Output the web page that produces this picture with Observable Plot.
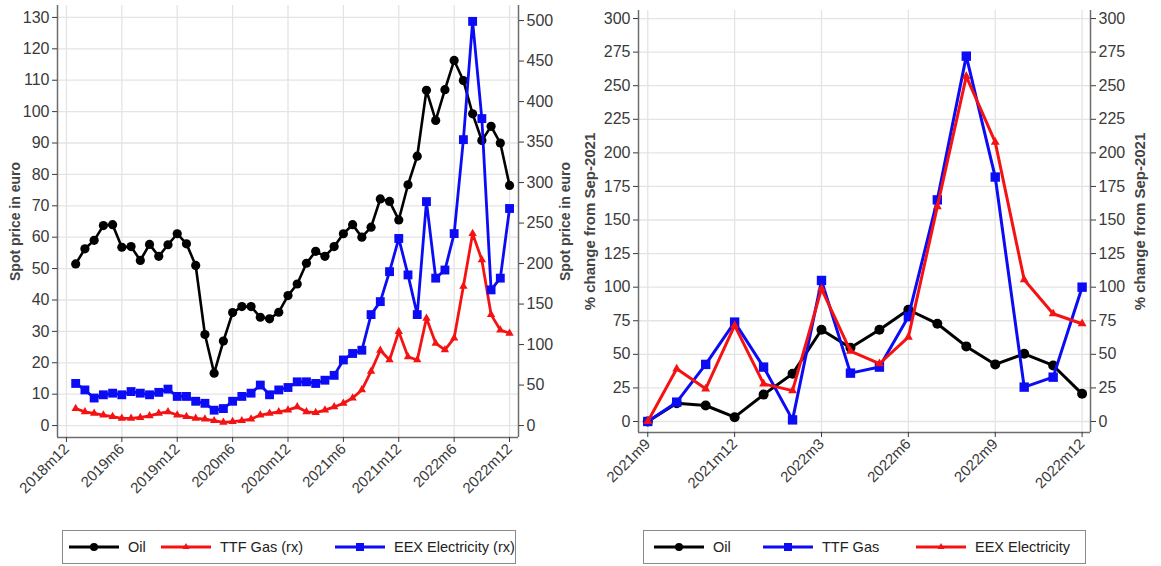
<!DOCTYPE html>
<html><head><meta charset="utf-8">
<script src="https://cdn.jsdelivr.net/npm/d3@7"></script>
<script src="https://cdn.jsdelivr.net/npm/@observablehq/plot@0.6"></script>
<style>
body{margin:0;background:#fff;width:1161px;height:566px;overflow:hidden;position:relative;font-family:"Liberation Sans Narrow","Arial Narrow",Arial,sans-serif;}
#left{position:absolute;left:0;top:0}
#right{position:absolute;left:580px;top:0}
.legend{position:absolute;border:1px solid #8a8a8a;height:32px;font-size:14.5px;color:#222}
.legend .it{position:absolute;top:0;height:32px;display:flex;align-items:center;white-space:nowrap}
.legend svg{display:block;margin-right:9px}
</style></head><body>
<div id="left"></div>
<div id="right"></div>
<div class="legend" id="legL" style="left:62px;top:530px;width:452px"></div>
<div class="legend" id="legR" style="left:643px;top:530px;width:441px"></div>
<script>
// ---------- Left panel data (monthly, 2019m1 .. 2022m12) ----------
const leftStart = "2019m1";
const oilPrice = [
  51.5, 56.3, 59.0, 63.7, 64.0, 56.8, 57.0, 52.6, 57.7, 53.9, 57.6, 61.1,
  57.9, 51.0, 29.0, 16.7, 26.9, 36.0, 37.9, 37.9, 34.5, 34.0, 36.1, 41.4,
  45.1, 51.7, 55.5, 53.9, 57.0, 61.1, 64.0, 60.0, 63.2, 72.2, 71.4, 65.5,
  76.7, 85.8, 106.8, 97.2, 107.0, 116.3, 109.9, 99.3, 90.8, 95.3, 90.0, 76.5
];
const ttfGasPrice = [ // right axis
  21, 17, 15, 13, 11, 9, 9, 10, 12, 15, 17, 13,
  11, 9, 8, 6, 4, 5, 6, 8, 13, 15, 17, 19,
  23, 17, 16, 19, 23, 27.5, 34, 44, 67, 93, 81, 116,
  85, 81, 132.5, 101.6, 93.5, 108, 172, 237, 204.5, 137, 118, 114
];
const eexElecPrice = [ // right axis
  52, 44, 34, 38, 40, 38, 42, 40, 38, 41, 45, 36,
  36, 30, 27.5, 19, 21, 30, 36, 40, 50, 38, 44, 47,
  54, 54, 52, 56, 62, 81, 89, 93, 137, 153, 190, 231,
  186, 137, 276.5, 182, 192, 237, 353, 499, 379, 167.5, 182, 268
];
const leftXTickLabels = ["2018m12","2019m6","2019m12","2020m6","2020m12","2021m6","2021m12","2022m6","2022m12"];
const leftYTicks = [0,10,20,30,40,50,60,70,80,90,100,110,120,130];
const leftY2Ticks = [0,50,100,150,200,250,300,350,400,450,500];

// ---------- Right panel data (% change from Sep-2021, 2021m9 .. 2022m12) ----------
const rightStart = "2021m9";
const oilPct = [0, 13.6, 11.9, 3.2, 20, 35.5, 68.3, 54.9, 68.3, 83.2, 72.8, 55.9, 42.5, 50.4, 41.7, 20.6];
const ttfGasPct = [0, 14.4, 42.5, 74, 40.5, 1.2, 105, 36, 40.5, 78, 165, 272, 182, 25.6, 33, 100];
const eexElecPct = [0, 39.2, 24.3, 71.5, 28, 23, 98.8, 52.4, 43, 62.8, 160, 257, 208, 105.5, 80.2, 72.8];
const rightXTickLabels = ["2021m9","2021m12","2022m3","2022m6","2022m9","2022m12"];
const rightYTicks = [0,25,50,75,100,125,150,175,200,225,250,275,300];

// ---------- helpers ----------
const toT = s => { const [y, m] = s.split("m").map(Number); return y * 12 + m - 1; };
const fmtT = t => `${Math.floor(t / 12)}m${(t % 12) + 1}`;
const BLUE = "#0b0bf5", RED = "#f51212", BLACK = "#000";
const K = 129.0 / 500; // right-axis units -> left-axis units

function series(start, values, name) {
  const t0 = toT(start);
  return values.map((v, i) => ({t: t0 + i, v, name}));
}

const axisStyle = {fontSize: 16, tickSize: 5, tickPadding: 3};
const titleStyle = {rotate: -90, textAnchor: "middle", fontSize: 14, fontWeight: "bold", fill: "#444", fontFamily: "Arial, Liberation Sans, sans-serif"};

// ---------- Left chart ----------
const lOil = series(leftStart, oilPrice, "Oil");
const lGas = series(leftStart, ttfGasPrice, "TTF Gas (rx)").map(d => ({...d, v: d.v * K}));
const lEex = series(leftStart, eexElecPrice, "EEX Electricity (rx)").map(d => ({...d, v: d.v * K}));
const lxTicks = leftXTickLabels.map(toT);
const lxDom = [lxTicks[0] - 0.97, lxTicks[lxTicks.length - 1] + 0.97];
const lyDom = [-3.8, 133.8];

const left = Plot.plot({
  width: 580, height: 520,
  marginLeft: 57, marginRight: 62, marginTop: 5, marginBottom: 83,
  style: {fontFamily: '"Liberation Sans Narrow","Arial Narrow",Arial,sans-serif', color: "#3a3a3a", background: "#fff"},
  x: {domain: lxDom},
  y: {domain: lyDom},
  marks: [
    Plot.gridY(leftYTicks, {stroke: "#e4e4e4", strokeOpacity: 1, strokeWidth: 1.3}),
    Plot.gridX(lxTicks, {stroke: "#e4e4e4", strokeOpacity: 1, strokeWidth: 1.3}),
    Plot.ruleX([lxDom[0], lxDom[1]], {stroke: "#6d6d6d", strokeWidth: 1.5}),
    Plot.ruleY([lyDom[0]], {stroke: "#6d6d6d", strokeWidth: 1.5}),
    Plot.line(lOil, {x: "t", y: "v", stroke: BLACK, strokeWidth: 2.6}),
    Plot.dot(lOil, {x: "t", y: "v", fill: BLACK, r: 4.6, symbol: "circle"}),
    Plot.line(lGas, {x: "t", y: "v", stroke: RED, strokeWidth: 2.8}),
    Plot.dot(lGas, {x: "t", y: "v", fill: RED, r: 3.1, symbol: "triangle"}),
    Plot.line(lEex, {x: "t", y: "v", stroke: BLUE, strokeWidth: 2.8}),
    Plot.dot(lEex, {x: "t", y: "v", fill: BLUE, r: 5, symbol: "square"}),
    Plot.axisY(leftYTicks, {anchor: "left", label: null, ...axisStyle}),
    Plot.axisY(leftY2Ticks.map(v => v * K), {anchor: "right", label: null, tickFormat: d => Math.round(d / K), ...axisStyle}),
    Plot.axisX(lxTicks, {anchor: "bottom", label: null, tickFormat: fmtT, tickRotate: -45, fontSize: 15, tickSize: 5, tickPadding: 4}),
    Plot.text(["Spot price in euro"], {frameAnchor: "left", dx: -42, ...titleStyle}),
    Plot.text(["Spot price in euro"], {frameAnchor: "right", dx: 47, ...titleStyle})
  ]
});
document.getElementById("left").append(left);

// ---------- Right chart ----------
const rOil = series(rightStart, oilPct, "Oil");
const rGas = series(rightStart, ttfGasPct, "TTF Gas");
const rEex = series(rightStart, eexElecPct, "EEX Electricity");
const rxTicks = rightXTickLabels.map(toT);
const rxDom = [rxTicks[0] - 0.32, rxTicks[rxTicks.length - 1] + 0.29];
const ryDom = [-8.2, 306];

const right = Plot.plot({
  width: 581, height: 520,
  marginLeft: 58, marginRight: 71, marginTop: 10, marginBottom: 88,
  style: {fontFamily: '"Liberation Sans Narrow","Arial Narrow",Arial,sans-serif', color: "#3a3a3a", background: "#fff"},
  x: {domain: rxDom},
  y: {domain: ryDom},
  marks: [
    Plot.gridY(rightYTicks, {stroke: "#e4e4e4", strokeOpacity: 1, strokeWidth: 1.3}),
    Plot.gridX(rxTicks, {stroke: "#e4e4e4", strokeOpacity: 1, strokeWidth: 1.3}),
    Plot.ruleX([rxDom[0], rxDom[1]], {stroke: "#6d6d6d", strokeWidth: 1.5}),
    Plot.ruleY([ryDom[0]], {stroke: "#6d6d6d", strokeWidth: 1.5}),
    Plot.line(rOil, {x: "t", y: "v", stroke: BLACK, strokeWidth: 3}),
    Plot.dot(rOil, {x: "t", y: "v", fill: BLACK, r: 5, symbol: "circle"}),
    Plot.line(rGas, {x: "t", y: "v", stroke: BLUE, strokeWidth: 3}),
    Plot.dot(rGas, {x: "t", y: "v", fill: BLUE, r: 5.3, symbol: "square"}),
    Plot.line(rEex, {x: "t", y: "v", stroke: RED, strokeWidth: 3}),
    Plot.dot(rEex, {x: "t", y: "v", fill: RED, r: 3.3, symbol: "triangle"}),
    Plot.axisY(rightYTicks, {anchor: "left", label: null, ...axisStyle}),
    Plot.axisY(rightYTicks, {anchor: "right", label: null, ...axisStyle}),
    Plot.axisX(rxTicks, {anchor: "bottom", label: null, tickFormat: fmtT, tickRotate: -45, fontSize: 15, tickSize: 5, tickPadding: 4}),
    Plot.text(["% change from Sep-2021"], {frameAnchor: "left", dx: -48, ...titleStyle, fontSize: 15}),
    Plot.text(["% change from Sep-2021"], {frameAnchor: "right", dx: 50, ...titleStyle, fontSize: 15})
  ]
});
document.getElementById("right").append(right);

// ---------- Legends ----------
function swatch(color, sym) {
  const w = 50, h = 14;
  let m = "";
  if (sym === "circle") m = `<circle cx="${w/2}" cy="${h/2}" r="4" fill="${color}"/>`;
  if (sym === "square") m = `<rect x="${w/2-4}" y="${h/2-4}" width="8" height="8" fill="${color}"/>`;
  if (sym === "triangle") m = `<path d="M${w/2},${h/2-4}L${w/2+3.5},${h/2+2}L${w/2-3.5},${h/2+2}Z" fill="${color}"/>`;
  return `<svg width="${w}" height="${h}"><line x1="0" x2="${w}" y1="${h/2}" y2="${h/2}" stroke="${color}" stroke-width="3"/>${m}</svg>`;
}
function legend(id, items) {
  const el = document.getElementById(id);
  el.innerHTML = items.map(([x, label, color, sym]) =>
    `<div class="it" style="left:${x}px">${swatch(color, sym)}<span>${label}</span></div>`).join("");
}
legend("legL", [[6, "Oil", BLACK, "circle"], [98, "TTF Gas (rx)", RED, "triangle"], [272, "EEX Electricity (rx)", BLUE, "square"]]);
legend("legR", [[10, "Oil", BLACK, "circle"], [119, "TTF Gas", BLUE, "square"], [272, "EEX Electricity", RED, "triangle"]]);
</script>
</body></html>
